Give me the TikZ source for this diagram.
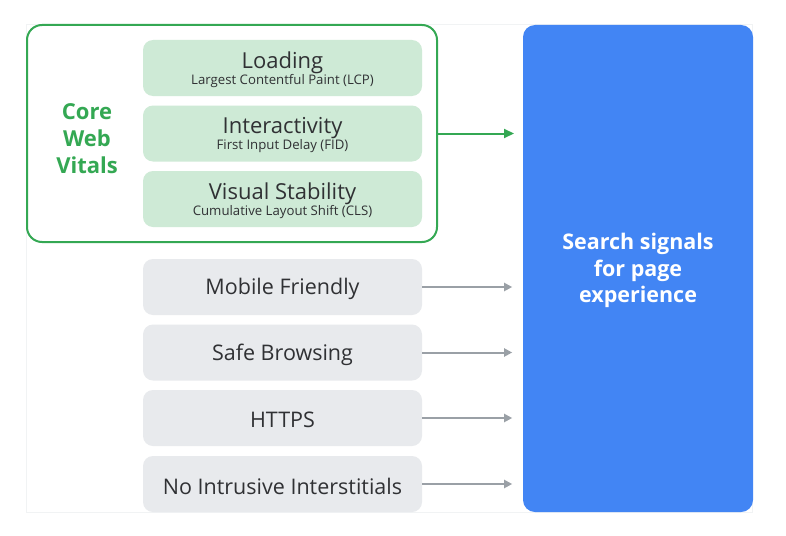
\documentclass[tikz,border=0pt]{standalone}
\usepackage{fontspec}
\setmainfont{Open Sans}
\usetikzlibrary{arrows.meta}
\definecolor{gGreen}{HTML}{34A853}
\definecolor{gGreenFill}{HTML}{CEEAD6}
\definecolor{gBlue}{HTML}{4285F4}
\definecolor{gGrayFill}{HTML}{E8EAED}
\definecolor{gGrayArrow}{HTML}{9AA0A6}
\definecolor{gText}{HTML}{303134}
\definecolor{gFrame}{HTML}{F1F3F4}
\tikzset{
  px/.style={x=1pt,y=-1pt},
  vitalbox/.style={fill=gGreenFill, rounded corners=10pt, minimum width=279pt, minimum height=56pt, inner sep=0pt},
  vitaltitle/.style={text=gText, inner sep=0pt, font=\fontsize{22}{24}\selectfont},
  vitalsub/.style={text=gText, inner sep=0pt, font=\fontsize{13.2}{15}\selectfont},
  signalbox/.style={fill=gGrayFill, rounded corners=10pt, minimum width=279pt, minimum height=56pt, inner sep=0pt, align=center, text=gText, font=\fontsize{21.5}{24}\selectfont},
  signaltext/.style={text=gText, inner sep=0pt, font=\fontsize{21.5}{24}\selectfont},
  greenarrow/.style={draw=gGreen, line width=2pt, -{Triangle[length=10pt,width=9pt]}},
  grayarrow/.style={draw=gGrayArrow, line width=2pt, -{Triangle[length=8pt,width=8pt]}},
}
\begin{document}
\begin{tikzpicture}[px]
\useasboundingbox (0,0) rectangle (786,535);
\fill[white] (0,0) rectangle (786,535);
% faint frame
\draw[gFrame, line width=0.8pt] (26,24) rectangle (752,512);
% core web vitals group
\draw[gGreen, line width=2pt, rounded corners=15pt] (27,25) rectangle (437,242);
\node (cwvgroup) at (232,133.5) [minimum width=410pt, minimum height=217pt, inner sep=0pt] {};
\node (cwv) at (87,139) [text=gGreen, align=center, font=\bfseries\fontsize{22}{27}\selectfont] {Core\\Web\\Vitals};
\node (lcp) at (282.5,68) [vitalbox] {};
\node (fid) at (282.5,133.5) [vitalbox] {};
\node (cls) at (282.5,199) [vitalbox] {};
\node (lcpT) at ([yshift=5.5pt]lcp.center) [vitaltitle] {Loading};
\node (lcpS) at ([yshift=-13pt]lcp.center) [vitalsub] {Largest Contentful Paint (LCP)};
\node (fidT) at ([yshift=5.5pt]fid.center) [vitaltitle] {Interactivity};
\node (fidS) at ([yshift=-13pt]fid.center) [vitalsub] {First Input Delay (FID)};
\node (clsT) at ([yshift=5.5pt]cls.center) [vitaltitle] {Visual Stability};
\node (clsS) at ([yshift=-13pt]cls.center) [vitalsub] {Cumulative Layout Shift (CLS)};
% signals
\node (mobile) at (282.5,287) [signalbox] {};
\node (safe) at (282.5,352.5) [signalbox] {};
\node (https) at (282.5,418) [signalbox] {};
\node (noint) at (282.5,484) [signalbox] {};
\node (mobileT) at ([yshift=-2pt]mobile.center) [signaltext] {Mobile Friendly};
\node (safeT) at ([yshift=-2pt]safe.center) [signaltext] {Safe Browsing};
\node (httpsT) at ([yshift=-2pt]https.center) [signaltext] {HTTPS};
\node (nointT) at ([yshift=-2pt]noint.center) [signaltext] {No Intrusive Interstitials};
% blue box
\node (search) at (638,268.5) [fill=gBlue, rounded corners=12pt, minimum width=230pt, minimum height=487pt, inner sep=0pt] {};
\node (searchtxt) at (638,270.5) [text=white, align=center, font=\bfseries\fontsize{21.5}{26.5}\selectfont] {Search signals\\for page\\experience};
% arrows
\coordinate (gEnd) at (514,133.5);
\draw[greenarrow] (cwvgroup.east) -- (gEnd);
\foreach \n in {mobile,safe,https,noint}{
  \draw[grayarrow] (\n.east) -- ([xshift=90pt]\n.east);
}
\end{tikzpicture}
\end{document}
